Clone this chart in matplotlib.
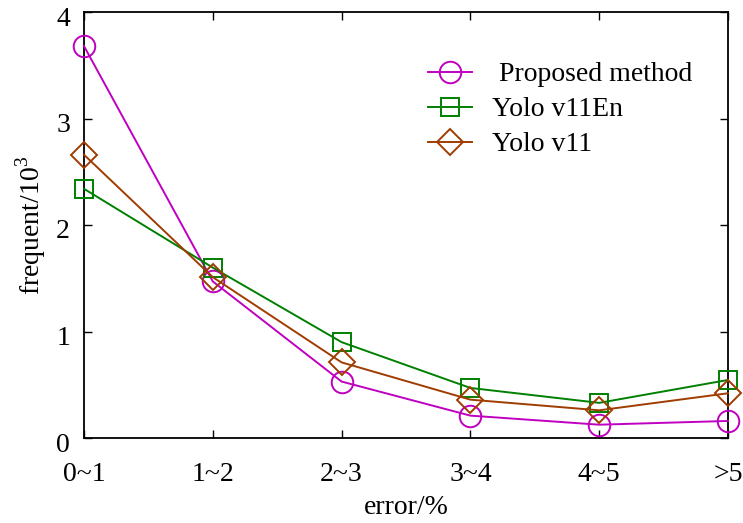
import matplotlib
matplotlib.use("Agg")
import matplotlib.pyplot as plt
import matplotlib.transforms as mtransforms

categories = ["0~1", "1~2", "2~3", "3~4", "4~5", ">5"]
proposed = [3.68, 1.47, 0.53, 0.21, 0.125, 0.16]
yolo_en = [2.34, 1.60, 0.90, 0.47, 0.33, 0.545]
yolo = [2.66, 1.51, 0.71, 0.36, 0.26, 0.42]
yticks = [0, 1, 2, 3, 4]

plt.rcParams['font.family'] = ['Liberation Serif', 'DejaVu Serif']
plt.rcParams['mathtext.fontset'] = 'custom'
plt.rcParams['mathtext.rm'] = 'Liberation Serif'

FS = 20
fig = plt.figure(figsize=(7.43, 5.23), dpi=100)
ax = fig.add_axes([84/743, 1-438/523, (728-84)/743, (438-12)/523])

x = list(range(len(categories)))
lw = 1.4
ax.plot(x, proposed, color='#C000C0', lw=lw, marker='o', ms=15.5, mfc='none',
        mew=1.4, clip_on=False, label=' Proposed method', zorder=3)
ax.plot(x, yolo_en, color='#008000', lw=lw, marker='s', ms=12.5, mfc='none',
        mew=1.4, clip_on=False, label='Yolo v11En', zorder=3)
ax.plot(x, yolo, color='#A03C00', lw=lw, marker='D', ms=13, mfc='none',
        mew=1.4, clip_on=False, label='Yolo v11', zorder=3)

ax.set_xlim(0, 5)
ax.set_ylim(0, 4)
ax.set_xticks(x)
ax.set_xticklabels(categories)
ax.set_yticks(yticks)
ax.tick_params(direction='in', top=True, right=True, length=6, width=1.0,
               labelsize=FS, pad=10)
ax.tick_params(axis='x', pad=17)
for s in ax.spines.values():
    s.set_linewidth(1.3)

# shift y tick labels slightly down as in reference
off = mtransforms.ScaledTranslation(0, -4/100, fig.dpi_scale_trans)
for lab in ax.get_yticklabels():
    lab.set_transform(lab.get_transform() + off)

ax.set_xlabel('error/%', fontsize=FS, labelpad=6)
ax.set_ylabel('frequent/10$^3$', fontsize=FS, labelpad=6)

leg = ax.legend(loc='upper left', bbox_to_anchor=((428-84)/644, (438-62)/426),
                frameon=False, borderpad=0, borderaxespad=0,
                fontsize=FS, handlelength=1.6, handletextpad=0.7,
                labelspacing=0.34)

fig.savefig('out.png', dpi=100)
